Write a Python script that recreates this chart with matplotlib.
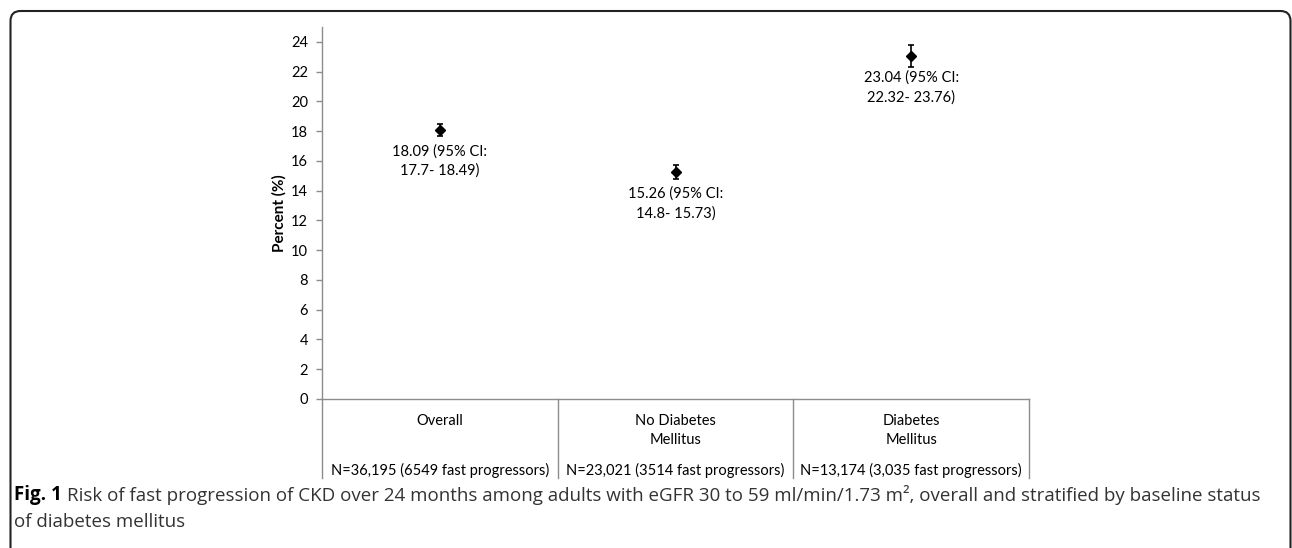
import matplotlib
matplotlib.use("Agg")
import matplotlib.pyplot as plt
from matplotlib.patches import FancyBboxPatch
from matplotlib.transforms import IdentityTransform, blended_transform_factory

# Data
categories = ["Overall", "No Diabetes\nMellitus", "Diabetes\nMellitus"]
risk = [18.09, 15.26, 23.04]
ci_low = [17.7, 14.8, 22.32]
ci_high = [18.49, 15.73, 23.76]
ci_text = ["17.7- 18.49", "14.8- 15.73", "22.32- 23.76"]
n_labels = ["N=36,195 (6549 fast progressors)",
            "N=23,021 (3514 fast progressors)",
            "N=13,174 (3,035 fast progressors)"]
yticks = list(range(0, 25, 2))

chart_font = "Lato"
caption_font = "Open Sans"
grey = "#8c8c8c"
fs = 10.5

W, H = 1292, 548
fig = plt.figure(figsize=(W / 100, H / 100), dpi=100)
ax = fig.add_axes([322 / W, (H - 399) / H, 707 / W, 372 / H])

x = list(range(len(categories)))
yerr = [[r - lo for r, lo in zip(risk, ci_low)],
        [hi - r for r, hi in zip(risk, ci_high)]]
ax.errorbar(x, risk, yerr=yerr, fmt="D", color="black", markersize=5,
            capsize=2.5, elinewidth=1.2, capthick=1.2)

for xi, r, ci in zip(x, risk, ci_text):
    ax.annotate(f"{r:.2f} (95% CI:\n{ci})", xy=(xi, r), xytext=(0, -10.5),
                textcoords="offset points", ha="center", va="top",
                fontsize=fs, family=chart_font, linespacing=1.45)

ax.set_xlim(-0.5, len(categories) - 0.5)
ax.set_ylim(0, 25)
ax.set_yticks(yticks)
ax.set_yticklabels([str(t) for t in yticks], family=chart_font, fontsize=fs)
ax.set_xticks([])
ax.tick_params(axis="y", direction="out", length=4, width=1, color=grey, pad=6)

for side in ["top", "right"]:
    ax.spines[side].set_visible(False)
for side in ["left", "bottom"]:
    ax.spines[side].set_color(grey)
    ax.spines[side].set_linewidth(1)

ax.text(-0.06, 0.5, "Percent (%)", transform=ax.transAxes, rotation=90,
        ha="center", va="center", fontsize=fs + 0.5, fontweight="bold",
        family=chart_font)

# table below the axis
trans = blended_transform_factory(ax.transData, ax.transAxes)
table_bottom = (399 - 478) / 372
for xb in [-0.5, 0.5, 1.5, 2.5]:
    ax.plot([xb, xb], [0, table_bottom], color=grey, lw=1, transform=trans,
            clip_on=False)
for xi, cat, nl in zip(x, categories, n_labels):
    ax.text(xi, (399 - 414) / 372, cat, transform=trans, ha="center",
            va="top", fontsize=fs, family=chart_font, linespacing=1.45)
    ax.text(xi, (399 - 470) / 372, nl, transform=trans, ha="center", va="center",
            fontsize=fs, family=chart_font)

# rounded frame, open at the bottom
frame = FancyBboxPatch((10.5, -40), 1280, H - 11 + 40,
                       boxstyle="round,pad=0,rounding_size=10",
                       transform=IdentityTransform(), fill=False,
                       edgecolor="#222222", linewidth=1.5)
fig.add_artist(frame)

# caption
cap_fs = 13.5
t1 = fig.text(14 / W, 1 - 495 / H, "Fig. 1", fontweight="bold", fontsize=cap_fs,
              family=caption_font, va="center", ha="left")
fig.canvas.draw()
bb = t1.get_window_extent()
fig.text((bb.x1 + 5) / W, 1 - 495 / H,
         "Risk of fast progression of CKD over 24 months among adults with eGFR 30 to 59 "
         "ml/min/1.73 m\u00b2, overall and stratified by baseline status",
         fontsize=cap_fs, family=caption_font, color="#333333", va="center", ha="left")
fig.text(14 / W, 1 - 522 / H, "of diabetes mellitus", fontsize=cap_fs,
         family=caption_font, color="#333333", va="center", ha="left")

fig.savefig("out.png", dpi=100)
